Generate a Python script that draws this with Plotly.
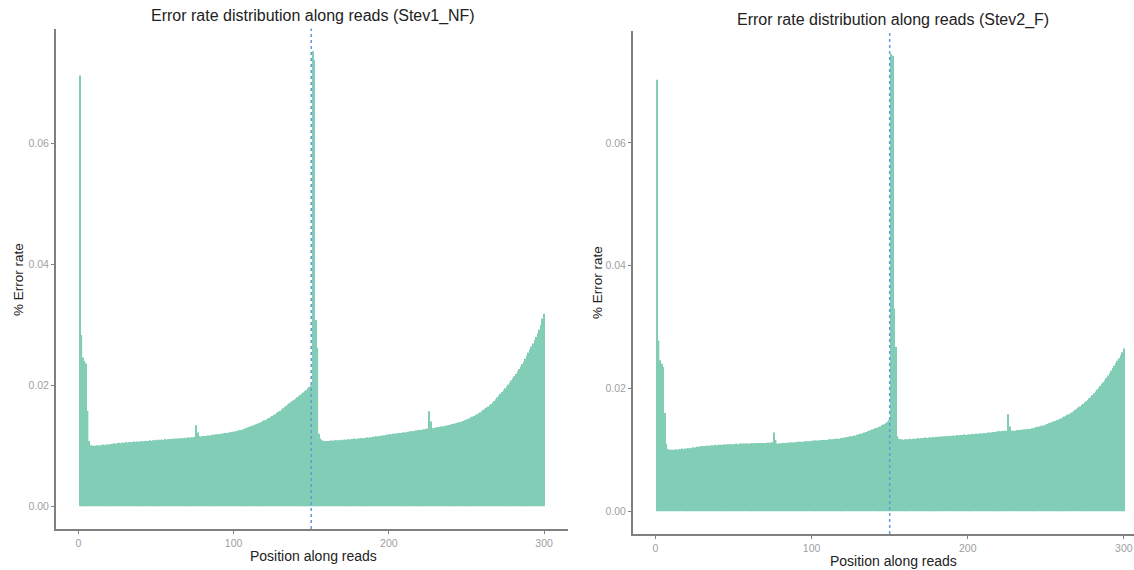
import plotly.graph_objects as go

# ---------------- data ----------------
positions = list(range(1, 301))

stev1_nf = [
    0.0712, 0.0283, 0.0246, 0.0240, 0.0236, 0.0158, 0.0108, 0.0101, 0.0100, 0.0100,
    0.0100, 0.0101, 0.0100, 0.0101, 0.0101, 0.0102, 0.0101, 0.0102, 0.0102, 0.0102,
    0.0103, 0.0103, 0.0104, 0.0103, 0.0104, 0.0105, 0.0104, 0.0105, 0.0105, 0.0105,
    0.0106, 0.0105, 0.0106, 0.0106, 0.0106, 0.0107, 0.0106, 0.0107, 0.0107, 0.0107,
    0.0108, 0.0107, 0.0108, 0.0108, 0.0108, 0.0109, 0.0108, 0.0109, 0.0109, 0.0109,
    0.0110, 0.0109, 0.0110, 0.0110, 0.0110, 0.0111, 0.0110, 0.0111, 0.0111, 0.0111,
    0.0112, 0.0111, 0.0112, 0.0112, 0.0112, 0.0113, 0.0112, 0.0113, 0.0113, 0.0113,
    0.0114, 0.0113, 0.0114, 0.0114, 0.0115, 0.0134, 0.0122, 0.0116, 0.0115, 0.0116,
    0.0116, 0.0116, 0.0117, 0.0117, 0.0117, 0.0118, 0.0118, 0.0118, 0.0119, 0.0119,
    0.0119, 0.0120, 0.0120, 0.0121, 0.0121, 0.0121, 0.0122, 0.0122, 0.0123, 0.0123,
    0.0124, 0.0124, 0.0125, 0.0126, 0.0126, 0.0127, 0.0128, 0.0129, 0.0130, 0.0131,
    0.0132, 0.0133, 0.0134, 0.0135, 0.0136, 0.0137, 0.0138, 0.0139, 0.0141, 0.0142,
    0.0143, 0.0145, 0.0146, 0.0148, 0.0149, 0.0151, 0.0152, 0.0154, 0.0156, 0.0158,
    0.0160, 0.0162, 0.0164, 0.0166, 0.0168, 0.0170, 0.0172, 0.0174, 0.0176, 0.0178,
    0.0180, 0.0182, 0.0184, 0.0186, 0.0188, 0.0190, 0.0192, 0.0195, 0.0197, 0.0200,
    0.0752, 0.0738, 0.0308, 0.0262, 0.0120, 0.0112, 0.0109, 0.0108, 0.0108, 0.0108,
    0.0108, 0.0108, 0.0109, 0.0108, 0.0109, 0.0109, 0.0109, 0.0109, 0.0110, 0.0109,
    0.0110, 0.0110, 0.0110, 0.0111, 0.0110, 0.0111, 0.0111, 0.0112, 0.0111, 0.0112,
    0.0112, 0.0113, 0.0112, 0.0113, 0.0113, 0.0114, 0.0113, 0.0114, 0.0114, 0.0115,
    0.0115, 0.0116, 0.0115, 0.0116, 0.0116, 0.0117, 0.0117, 0.0118, 0.0118, 0.0119,
    0.0119, 0.0119, 0.0120, 0.0120, 0.0120, 0.0121, 0.0121, 0.0121, 0.0122, 0.0122,
    0.0122, 0.0123, 0.0123, 0.0124, 0.0124, 0.0124, 0.0125, 0.0125, 0.0126, 0.0126,
    0.0126, 0.0127, 0.0127, 0.0128, 0.0128, 0.0157, 0.0140, 0.0129, 0.0129, 0.0130,
    0.0130, 0.0131, 0.0131, 0.0132, 0.0132, 0.0133, 0.0133, 0.0134, 0.0134, 0.0135,
    0.0136, 0.0136, 0.0137, 0.0138, 0.0139, 0.0139, 0.0140, 0.0141, 0.0142, 0.0143,
    0.0144, 0.0145, 0.0147, 0.0148, 0.0149, 0.0151, 0.0152, 0.0154, 0.0155, 0.0157,
    0.0159, 0.0161, 0.0163, 0.0165, 0.0167, 0.0169, 0.0171, 0.0174, 0.0177, 0.0180,
    0.0183, 0.0186, 0.0189, 0.0192, 0.0195, 0.0198, 0.0201, 0.0204, 0.0208, 0.0211,
    0.0215, 0.0219, 0.0223, 0.0227, 0.0231, 0.0235, 0.0239, 0.0244, 0.0249, 0.0254,
    0.0259, 0.0264, 0.0269, 0.0275, 0.0280, 0.0286, 0.0292, 0.0299, 0.0310, 0.0318,
]

stev2_f = [
    0.0703, 0.0278, 0.0246, 0.0240, 0.0235, 0.0160, 0.0110, 0.0101, 0.0100, 0.0100,
    0.0100, 0.0100, 0.0101, 0.0100, 0.0101, 0.0101, 0.0102, 0.0101, 0.0102, 0.0102,
    0.0103, 0.0102, 0.0103, 0.0104, 0.0103, 0.0104, 0.0105, 0.0105, 0.0106, 0.0106,
    0.0106, 0.0106, 0.0107, 0.0106, 0.0107, 0.0107, 0.0107, 0.0108, 0.0107, 0.0108,
    0.0108, 0.0108, 0.0108, 0.0109, 0.0108, 0.0109, 0.0109, 0.0109, 0.0109, 0.0109,
    0.0109, 0.0110, 0.0109, 0.0110, 0.0110, 0.0110, 0.0110, 0.0110, 0.0110, 0.0110,
    0.0110, 0.0111, 0.0110, 0.0111, 0.0111, 0.0111, 0.0111, 0.0111, 0.0111, 0.0111,
    0.0111, 0.0112, 0.0111, 0.0112, 0.0112, 0.0128, 0.0116, 0.0110, 0.0110, 0.0110,
    0.0111, 0.0111, 0.0111, 0.0111, 0.0112, 0.0112, 0.0112, 0.0112, 0.0112, 0.0112,
    0.0113, 0.0113, 0.0113, 0.0113, 0.0113, 0.0114, 0.0114, 0.0114, 0.0114, 0.0114,
    0.0115, 0.0115, 0.0115, 0.0115, 0.0115, 0.0116, 0.0116, 0.0116, 0.0116, 0.0116,
    0.0117, 0.0117, 0.0117, 0.0117, 0.0118, 0.0118, 0.0118, 0.0118, 0.0119, 0.0119,
    0.0120, 0.0120, 0.0121, 0.0121, 0.0122, 0.0122, 0.0123, 0.0123, 0.0124, 0.0125,
    0.0126, 0.0126, 0.0127, 0.0128, 0.0129, 0.0130, 0.0131, 0.0132, 0.0133, 0.0134,
    0.0135, 0.0136, 0.0137, 0.0138, 0.0140, 0.0141, 0.0142, 0.0144, 0.0146, 0.0148,
    0.0745, 0.0742, 0.0330, 0.0268, 0.0122, 0.0118, 0.0117, 0.0117, 0.0116, 0.0117,
    0.0117, 0.0117, 0.0118, 0.0117, 0.0118, 0.0118, 0.0118, 0.0119, 0.0118, 0.0119,
    0.0119, 0.0119, 0.0120, 0.0119, 0.0120, 0.0120, 0.0120, 0.0121, 0.0120, 0.0121,
    0.0121, 0.0121, 0.0122, 0.0121, 0.0122, 0.0122, 0.0122, 0.0123, 0.0122, 0.0123,
    0.0123, 0.0123, 0.0124, 0.0123, 0.0124, 0.0124, 0.0124, 0.0125, 0.0124, 0.0125,
    0.0125, 0.0125, 0.0126, 0.0125, 0.0126, 0.0126, 0.0126, 0.0127, 0.0126, 0.0127,
    0.0127, 0.0127, 0.0128, 0.0128, 0.0128, 0.0129, 0.0129, 0.0129, 0.0130, 0.0130,
    0.0130, 0.0130, 0.0131, 0.0131, 0.0131, 0.0158, 0.0138, 0.0131, 0.0131, 0.0131,
    0.0131, 0.0132, 0.0132, 0.0132, 0.0133, 0.0133, 0.0133, 0.0134, 0.0134, 0.0134,
    0.0135, 0.0135, 0.0136, 0.0137, 0.0137, 0.0138, 0.0139, 0.0139, 0.0140, 0.0141,
    0.0142, 0.0143, 0.0144, 0.0145, 0.0146, 0.0147, 0.0148, 0.0149, 0.0150, 0.0151,
    0.0153, 0.0154, 0.0155, 0.0157, 0.0158, 0.0160, 0.0161, 0.0163, 0.0165, 0.0167,
    0.0169, 0.0171, 0.0173, 0.0175, 0.0177, 0.0179, 0.0181, 0.0184, 0.0186, 0.0189,
    0.0192, 0.0195, 0.0198, 0.0201, 0.0204, 0.0207, 0.0210, 0.0213, 0.0217, 0.0221,
    0.0225, 0.0229, 0.0233, 0.0237, 0.0241, 0.0245, 0.0249, 0.0254, 0.0259, 0.0265,
]

x_ticks = [0, 100, 200, 300]
y_ticks = [0.00, 0.02, 0.04, 0.06]
read_split = 150

titles = ["Error rate distribution along reads (Stev1_NF)",
          "Error rate distribution along reads (Stev2_F)"]
x_title = "Position along reads"
y_title = "% Error rate"

# ---------------- styling ----------------
W, H = 1134, 570
BAR_COLOR = "rgb(130,205,181)"
LINE_COLOR = "#6499de"
AXIS_COLOR = "#808080"
FONT = "Liberation Sans, Arial, sans-serif"
TICK_FONT = dict(family=FONT, size=10.5, color="#a0a0a0")

fig = go.Figure()
fig.add_trace(go.Bar(x=positions, y=stev1_nf, marker=dict(color=BAR_COLOR, line=dict(width=0)),
                     xaxis="x", yaxis="y", showlegend=False))
fig.add_trace(go.Bar(x=positions, y=stev2_f, marker=dict(color=BAR_COLOR, line=dict(width=0)),
                     xaxis="x2", yaxis="y2", showlegend=False))


def px_x(v):
    return v / W


def px_y(v):
    return 1 - v / H


common_axis = dict(showgrid=False, zeroline=False, showline=True, linecolor=AXIS_COLOR,
                   linewidth=2, ticks="outside", ticklen=3, tickcolor=AXIS_COLOR,
                   tickwidth=1, tickfont=TICK_FONT, automargin=False,
                   ticklabeloverflow="allow")

fig.update_layout(
    width=W, height=H,
    margin=dict(l=0, r=0, t=0, b=0, pad=0),
    paper_bgcolor="white", plot_bgcolor="white",
    bargap=0.1,
    xaxis=dict(domain=[px_x(56), px_x(568)], range=[-14.4, 315.4], tickvals=x_ticks,
               anchor="y", **common_axis),
    yaxis=dict(domain=[px_y(529), px_y(28.5)], range=[-0.00376, 0.07896], tickvals=y_ticks,
               tickformat=".2f", anchor="x", **common_axis),
    xaxis2=dict(domain=[px_x(633), 1.0], range=[-14.4, 306.5], tickvals=x_ticks,
                anchor="y2", **common_axis),
    yaxis2=dict(domain=[px_y(534), px_y(31)], range=[-0.003725, 0.078225], tickvals=y_ticks,
                tickformat=".2f", anchor="x2", **common_axis),
)

# dashed vertical line at the read split
for xr, yr in [("x", "y domain"), ("x2", "y2 domain")]:
    fig.add_shape(type="line", xref=xr, yref=yr, x0=read_split, x1=read_split, y0=0, y1=1,
                  line=dict(color=LINE_COLOR, width=1.5, dash="3px,3px"))

base = dict(xref="paper", yref="paper", showarrow=False, xanchor="center", yanchor="middle")
ann = [
    dict(text=titles[0], x=px_x(313), y=px_y(16), font=dict(family=FONT, size=16, color="#222"), **base),
    dict(text=titles[1], x=px_x(893), y=px_y(20), font=dict(family=FONT, size=16, color="#222"), **base),
    dict(text=x_title, x=px_x(313), y=px_y(556), font=dict(family=FONT, size=14, color="#222"), **base),
    dict(text=x_title, x=px_x(893), y=px_y(561), font=dict(family=FONT, size=14, color="#222"), **base),
    dict(text=y_title, x=px_x(18), y=px_y(280), textangle=-90,
         font=dict(family=FONT, size=13.5, color="#222"), **base),
    dict(text=y_title, x=px_x(597), y=px_y(283), textangle=-90,
         font=dict(family=FONT, size=13.5, color="#222"), **base),
]
fig.update_layout(annotations=ann)

fig.write_html("out.html",
               config={"displayModeBar": False},
               post_script="document.body.style.margin='0';document.body.style.overflow='hidden';")
